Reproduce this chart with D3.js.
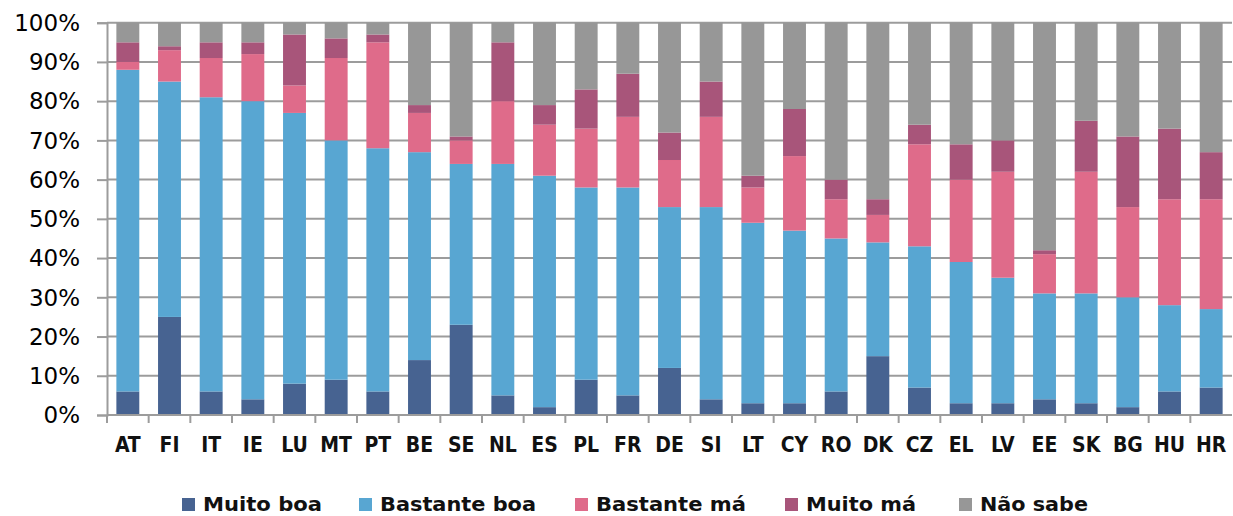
<!DOCTYPE html>
<html>
<head>
<meta charset="utf-8">
<script src="https://cdn.jsdelivr.net/npm/d3@7"></script>
<style>
  html, body { margin: 0; padding: 0; background: #fff; }
  svg { display: block; }
</style>
</head>
<body>
<svg id="chart" width="1233" height="516"></svg>
<script>
const categories = ["AT","FI","IT","IE","LU","MT","PT","BE","SE","NL","ES","PL","FR","DE","SI","LT","CY","RO","DK","CZ","EL","LV","EE","SK","BG","HU","HR"];
const seriesNames = ["Muito boa","Bastante boa","Bastante má","Muito má","Não sabe"];
const muitoBoa    = [6,25,6,4,8,9,6,14,23,5,2,9,5,12,4,3,3,6,15,7,3,3,4,3,2,6,7];
const bastanteBoa = [82,60,75,76,69,61,62,53,41,59,59,49,53,41,49,46,44,39,29,36,36,32,27,28,28,22,20];
const bastanteMa  = [2,8,10,12,7,21,27,10,6,16,13,15,18,12,23,9,19,10,7,26,21,27,10,31,23,27,28];
const muitoMa     = [5,1,4,3,13,5,2,2,1,15,5,10,11,7,9,3,12,5,4,5,9,8,1,13,18,18,12];
const naoSabe     = [5,6,5,5,3,4,3,21,29,5,21,17,13,28,15,39,22,40,45,26,31,30,58,25,29,27,33];
const yTicks = [0,10,20,30,40,50,60,70,80,90,100];
const colors = ["#476391","#58A6D2","#DF6B8A","#A8557A","#979797"];

(function () {
const seriesValues = [muitoBoa, bastanteBoa, bastanteMa, muitoMa, naoSabe];
const rows = categories.map((c, i) => {
  const r = { cat: c };
  seriesNames.forEach((s, k) => r[s] = seriesValues[k][i]);
  return r;
});

const svg = d3.select("#chart");
const mLeft = 107, mRight = 1232, mTop = 22.7, mBottom = 415;

const x = d3.scaleBand().domain(categories).range([mLeft, mRight]).paddingInner(0.45).paddingOuter(0.225);
const y = d3.scaleLinear().domain([0, 100]).range([mBottom, mTop]);

// gridlines
svg.append("g").selectAll("line").data(yTicks.filter(d => d > 0)).join("line")
  .attr("x1", mLeft).attr("x2", mRight)
  .attr("y1", d => y(d)).attr("y2", d => y(d))
  .attr("stroke", "#9c9c9c").attr("stroke-width", 2);

// bars
const stack = d3.stack().keys(seriesNames)(rows);
svg.append("g").selectAll("g").data(stack).join("g")
  .attr("fill", (d, i) => colors[i])
  .selectAll("rect").data(d => d).join("rect")
  .attr("x", d => x(d.data.cat))
  .attr("width", x.bandwidth())
  .attr("y", d => y(d[1]))
  .attr("height", d => y(d[0]) - y(d[1]));

// y axis
const yAxis = svg.append("g").attr("transform", `translate(${mLeft},0)`)
  .call(d3.axisLeft(y).tickValues(yTicks).tickSize(10).tickPadding(17).tickFormat(d => d + "%"));
yAxis.select(".domain").attr("stroke", "#9c9c9c").attr("stroke-width", 2);
yAxis.selectAll(".tick line").attr("stroke", "#9c9c9c").attr("stroke-width", 2);
yAxis.selectAll(".tick text")
  .attr("font-family", "'DejaVu Sans', Verdana, sans-serif")
  .attr("font-size", 23).attr("fill", "#000").attr("dy", "0.34em");

// x axis
const step = x.step();
svg.append("line").attr("x1", mLeft).attr("x2", mRight).attr("y1", mBottom).attr("y2", mBottom)
  .attr("stroke", "#9c9c9c").attr("stroke-width", 2);
const boundaries = d3.range(categories.length).map(i => mLeft + i * step);
svg.append("g").selectAll("line").data(boundaries).join("line")
  .attr("x1", d => d).attr("x2", d => d)
  .attr("y1", mBottom).attr("y2", mBottom + 8)
  .attr("stroke", "#9c9c9c").attr("stroke-width", 2);
svg.append("g").selectAll("text").data(categories).join("text")
  .attr("x", d => x(d) + x.bandwidth() / 2)
  .attr("y", 452)
  .attr("text-anchor", "middle")
  .attr("font-family", "'DejaVu Sans Condensed', 'DejaVu Sans', sans-serif")
  .attr("font-weight", "bold")
  .attr("font-size", 21)
  .attr("fill", "#111")
  .text(d => d);

// legend
const legendX = [182, 359, 575, 785, 959];
const legendW = [119, 156, 150, 110, 108];
const lg = svg.append("g").selectAll("g").data(seriesNames).join("g")
  .attr("transform", (d, i) => `translate(${legendX[i]},0)`);
lg.append("rect").attr("x", 0).attr("y", 498).attr("width", 13).attr("height", 13)
  .attr("fill", (d, i) => colors[i]);
lg.append("text").attr("x", 21).attr("y", 511)
  .attr("font-family", "'DejaVu Sans Condensed', 'DejaVu Sans', sans-serif")
  .attr("font-weight", "bold")
  .attr("font-size", 20)
  .attr("fill", "#111")
  .attr("textLength", (d, i) => legendW[i])
  .attr("lengthAdjust", "spacingAndGlyphs")
  .text(d => d);
})();
</script>
</body>
</html>
